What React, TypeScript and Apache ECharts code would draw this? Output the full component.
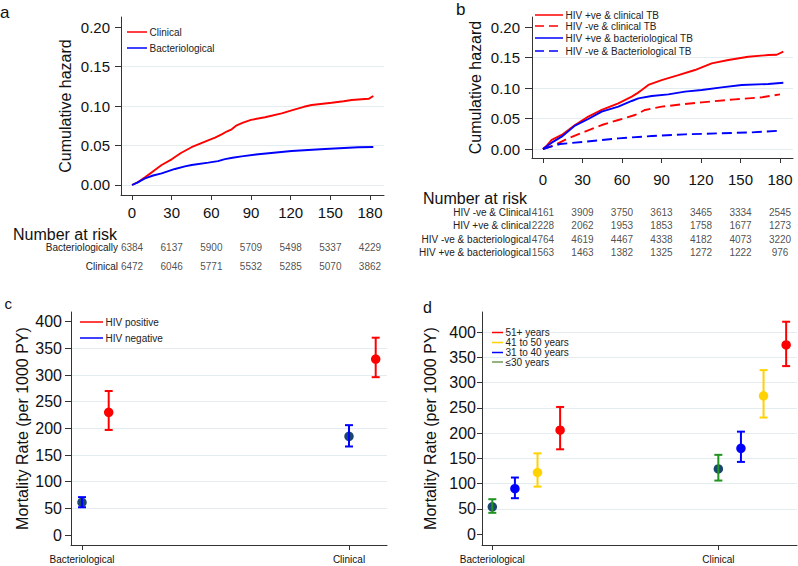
import React, { useEffect, useRef } from "react";
import * as echarts from "echarts";

// ---------- shared ticks / categories ----------
const days = [0, 30, 60, 90, 120, 150, 180];
const hazardTicks = [0, 0.05, 0.1, 0.15, 0.2];
const rateTicks = [0, 50, 100, 150, 200, 250, 300, 350, 400];
const tbTypes = ["Bacteriological", "Clinical"];

// ---------- panel a: cumulative hazard ----------
const aClinical: [number, number][] = [
  [0, 0], [5, 0.004], [9.8, 0.0097], [15, 0.016], [22.4, 0.0253], [30, 0.0325], [37, 0.0405],
  [45, 0.0478], [52, 0.0528], [58, 0.0568], [62.8, 0.0599], [67.8, 0.0641], [72, 0.068],
  [75.4, 0.0705], [79.2, 0.0755], [84, 0.079], [90, 0.0825], [100.6, 0.0857], [113.2, 0.0907],
  [123.3, 0.0958], [130, 0.099], [135.9, 0.1013], [151, 0.1042], [160, 0.106], [166.2, 0.1076],
  [176.2, 0.1089], [179, 0.109], [182.5, 0.1127],
];
const aBacterio: [number, number][] = [
  [0, 0], [4, 0.003], [9.8, 0.0084], [16, 0.012], [22.4, 0.0148], [32.5, 0.0203], [40, 0.0235],
  [45.1, 0.0253], [57.7, 0.0283], [65, 0.0302], [70.3, 0.0328], [76, 0.0345], [82.9, 0.0362],
  [95.5, 0.039], [120.7, 0.043], [145.9, 0.0456], [171.1, 0.0477], [182.5, 0.0481],
];
const aLegend = ["Clinical", "Bacteriological"];
const riskRowsA = ["Bacteriologically", "Clinical"];
const riskA = [
  [6384, 6137, 5900, 5709, 5498, 5337, 4229],
  [6472, 6046, 5771, 5532, 5285, 5070, 3862],
];

// ---------- panel b ----------
const bHivPosClin: [number, number][] = [
  [0, 0], [3, 0.006], [6.6, 0.0148], [14.2, 0.023], [24.3, 0.0393], [34.4, 0.053], [44.6, 0.064],
  [57.2, 0.0749], [67.4, 0.0858], [72, 0.092], [75, 0.0967], [80, 0.105], [90.1, 0.113],
  [102.8, 0.121], [115.4, 0.1295], [128.1, 0.1404], [140.8, 0.1459], [155.9, 0.1513],
  [171.1, 0.154], [177.5, 0.1545], [182.5, 0.1595],
];
const bHivNegClin: [number, number][] = [
  [0, 0], [9.1, 0.0066], [19.2, 0.0175], [31.9, 0.0284], [44.6, 0.0393], [57.2, 0.0475],
  [69.9, 0.0557], [77.5, 0.064], [90.1, 0.0694], [107.8, 0.0738], [120.5, 0.0765],
  [145.8, 0.0814], [166.1, 0.0847], [180, 0.0896],
];
const bHivPosBact: [number, number][] = [
  [0, 0], [6.6, 0.0104], [14.2, 0.0202], [24.3, 0.0383], [34.4, 0.0492], [44.6, 0.0612],
  [57.2, 0.0694], [67.4, 0.0787], [72.4, 0.083], [82.6, 0.0869], [95.2, 0.0896], [107.8, 0.094],
  [120.5, 0.0967], [135.7, 0.101], [150.9, 0.105], [171.1, 0.1066], [182.5, 0.1087],
];
const bHivNegBact: [number, number][] = [
  [0, 0], [12.9, 0.0082], [31.9, 0.012], [57.2, 0.0175], [82.6, 0.0213], [107.8, 0.024],
  [133.2, 0.0257], [158.5, 0.0273], [180, 0.03],
];
const bLegend = [
  "HIV +ve & clinical TB",
  "HIV -ve & clinical TB",
  "HIV +ve & bacteriological TB",
  "HIV -ve & Bacteriological TB",
];
const riskRowsB = [
  "HIV -ve & Clinical",
  "HIV +ve & clinical",
  "HIV -ve & bacteriological",
  "HIV +ve & bacteriological",
];
const riskB = [
  [4161, 3909, 3750, 3613, 3465, 3334, 2545],
  [2228, 2062, 1953, 1853, 1758, 1677, 1273],
  [4764, 4619, 4467, 4338, 4182, 4073, 3220],
  [1563, 1463, 1382, 1325, 1272, 1222, 976],
];

// ---------- panel c: [rate, lower, upper] per TB type ----------
const cLegend = ["HIV positive", "HIV negative"];
const cHivPos = [[230, 197, 270], [330, 296, 370]];
const cHivNeg = [[61, 52, 71], [185, 166, 206]];

// ---------- panel d ----------
const dLegend = ["51+ years", "41 to 50 years", "31 to 40 years", "≤30 years"];
const dAge51 = [[206, 168, 252], [375, 333, 421]];
const dAge41 = [[122, 94, 160], [274, 231, 325]];
const dAge31 = [[90, 71, 112], [170, 143, 203]];
const dAge30 = [[54, 42, 69], [129, 106, 157]];

// ---------- styles ----------
const FONT = 'Arial, "Liberation Sans", Helvetica, sans-serif';
const AX = "#333333";
const GRIDC = "#e3edf0";
const TXT = "#111111";
const RED = "#ff0000";
const BLUE = "#0000ff";
const NAVY = "#1a476f";
const GOLD = "#ffd200";
const GREEN = "#1f941f";
const GREEN_LEG = "#6f9a55";

function yValueAxis(o: any) {
  return {
    type: "value",
    gridIndex: o.grid,
    min: o.min,
    max: o.max,
    axisLine: { show: true, onZero: false, lineStyle: { color: AX, width: 1 } },
    axisTick: { show: true, length: o.tickLen, customValues: o.ticks, lineStyle: { color: AX, width: 1 } },
    axisLabel: {
      show: true, customValues: o.ticks, formatter: o.fmt, fontSize: o.fs, margin: o.margin,
      color: TXT, fontFamily: FONT,
    },
    splitLine: {
      show: true, showMinLine: o.minLine, showMaxLine: o.maxLine,
      lineStyle: { color: GRIDC, width: 1.2 },
    },
    name: o.name,
    nameLocation: "middle",
    nameRotate: 90,
    nameGap: o.nameGap,
    nameTextStyle: { fontSize: o.nameFs, color: TXT, fontFamily: FONT },
  };
}

function xValueAxis(o: any) {
  return {
    type: "value",
    gridIndex: o.grid,
    min: o.min,
    max: o.max,
    axisLine: { show: true, onZero: false, lineStyle: { color: AX, width: 1 } },
    axisTick: { show: true, length: o.tickLen, customValues: o.ticks, lineStyle: { color: AX, width: 1 } },
    axisLabel: {
      show: true, customValues: o.ticks, formatter: o.fmt, fontSize: o.fs, margin: o.margin,
      color: TXT, fontFamily: FONT,
    },
    splitLine: { show: false },
  };
}

function lineSeries(name: string, data: [number, number][], color: string, dashed: boolean, axis: number) {
  return {
    type: "line", name, data, xAxisIndex: axis, yAxisIndex: axis,
    showSymbol: false, symbol: "none", silent: true,
    lineStyle: { color, width: 1.9, type: dashed ? [10, 5] : "solid" },
    z: 3,
  };
}

function dotSeries(name: string, data: number[][], offset: number, color: string, axis: number) {
  return {
    type: "scatter", name, xAxisIndex: axis, yAxisIndex: axis, silent: true,
    data: data.map((d, i) => [i + 1 + offset, d[0]]),
    symbol: "circle", symbolSize: 9.5,
    itemStyle: { color, opacity: 1 },
    z: 3,
  };
}

function barSeries(name: string, data: number[][], offset: number, color: string, axis: number) {
  return {
    type: "custom", name, xAxisIndex: axis, yAxisIndex: axis, silent: true,
    data: data.map((d, i) => [i + 1 + offset, d[1], d[2]]),
    encode: { x: 0, y: [1, 2] },
    renderItem: (_p: any, api: any) => {
      const x = api.value(0);
      const lo = api.coord([x, api.value(1)]);
      const hi = api.coord([x, api.value(2)]);
      const hw = 4;
      const style = { stroke: color, lineWidth: 2, fill: "none" };
      return {
        type: "group",
        children: [
          { type: "line", shape: { x1: lo[0], y1: lo[1], x2: hi[0], y2: hi[1] }, style },
          { type: "line", shape: { x1: hi[0] - hw, y1: hi[1], x2: hi[0] + hw, y2: hi[1] }, style },
          { type: "line", shape: { x1: lo[0] - hw, y1: lo[1], x2: lo[0] + hw, y2: lo[1] }, style },
        ],
      };
    },
    z: 4,
  };
}

function riskSeries(rows: string[], counts: number[][], axis: number) {
  const data: any[] = [];
  rows.forEach((r, ri) => counts[ri].forEach((n, k) => data.push([days[k], r, n])));
  return {
    type: "scatter", xAxisIndex: axis, yAxisIndex: axis, silent: true,
    data, symbolSize: 1, itemStyle: { color: "rgba(0,0,0,0)" },
    label: {
      show: true, position: "inside", formatter: (p: any) => String(p.value[2]),
      fontSize: 10, color: "#222", fontFamily: FONT,
    },
  };
}

function legendItem(x1: number, x2: number, y: number, color: string, text: string, dashed = false, fs = 10) {
  return [
    {
      type: "line", silent: true, z: 50,
      shape: { x1, y1: y, x2, y2: y },
      style: { stroke: color, lineWidth: 1.5, lineDash: dashed ? [9, 5] : null },
    },
    {
      type: "text", silent: true, z: 50, x: x2 + 2.5, y,
      style: { text, fontSize: fs, fontFamily: FONT, fill: "#222", verticalAlign: "middle", align: "left" },
    },
  ];
}

function plainText(x: number, y: number, text: string, fs: number) {
  return {
    type: "text", silent: true, z: 50, x, y,
    style: { text, fontSize: fs, fontFamily: FONT, fill: TXT, verticalAlign: "middle", align: "left" },
  };
}

export default function App() {
  const ref = useRef<HTMLDivElement>(null);

  useEffect(() => {
    if (!ref.current) return;
    const chart = echarts.init(ref.current, undefined, { renderer: "svg" });
    const hz = (v: number) => v.toFixed(2);
    const cat = (v: number) => tbTypes[Math.round(v) - 1] ?? "";

    const option: any = {
      animation: false,
      backgroundColor: "#ffffff",
      textStyle: { fontFamily: FONT },
      grid: [
        { left: 121, top: 17, width: 263, height: 178, containLabel: false, outerBoundsMode: "none" },
        { left: 532, top: 17, width: 261, height: 141, containLabel: false, outerBoundsMode: "none" },
        { left: 71, top: 312, width: 316, height: 233, containLabel: false, outerBoundsMode: "none" },
        { left: 482, top: 312, width: 315, height: 233, containLabel: false, outerBoundsMode: "none" },
        { left: 121, top: 238.1, width: 263, height: 37.6, containLabel: false, outerBoundsMode: "none" },
        { left: 532, top: 205.5, width: 261, height: 53.7, containLabel: false, outerBoundsMode: "none" },
      ],
      xAxis: [
        xValueAxis({ grid: 0, min: -8.32, max: 190.59, ticks: days, fmt: (v: number) => String(v), fs: 15, margin: 10, tickLen: 5 }),
        xValueAxis({ grid: 1, min: -8.35, max: 189.87, ticks: days, fmt: (v: number) => String(v), fs: 15, margin: 14, tickLen: 5 }),
        xValueAxis({ grid: 2, min: 0.9588, max: 2.1423, ticks: [1, 2], fmt: cat, fs: 10, margin: 9, tickLen: 5 }),
        xValueAxis({ grid: 3, min: 0.9544, max: 2.348, ticks: [1, 2], fmt: cat, fs: 10, margin: 9, tickLen: 5 }),
        { type: "value", gridIndex: 4, min: -8.32, max: 190.59, show: false },
        { type: "value", gridIndex: 5, min: -8.35, max: 189.87, show: false },
      ],
      yAxis: [
        yValueAxis({
          grid: 0, min: -0.01266, max: 0.21266, ticks: hazardTicks, fmt: hz, fs: 15, margin: 11, tickLen: 6,
          minLine: true, maxLine: false, name: "Cumulative hazard", nameGap: 48, nameFs: 16,
        }),
        yValueAxis({
          grid: 1, min: -0.01475, max: 0.2164, ticks: hazardTicks, fmt: hz, fs: 15, margin: 12, tickLen: 7,
          minLine: true, maxLine: false, name: "Cumulative hazard", nameGap: 49, nameFs: 16,
        }),
        yValueAxis({
          grid: 2, min: -18.75, max: 418.2, ticks: rateTicks, fmt: (v: number) => String(v), fs: 16, margin: 9, tickLen: 6,
          minLine: false, maxLine: false, name: "Mortality Rate (per 1000 PY)", nameGap: 41, nameFs: 16,
        }),
        yValueAxis({
          grid: 3, min: -21.8, max: 440.3, ticks: rateTicks, fmt: (v: number) => String(v), fs: 16, margin: 6, tickLen: 5,
          minLine: false, maxLine: true, name: "Mortality Rate (per 1000 PY)", nameGap: 44, nameFs: 16,
        }),
        {
          type: "category", gridIndex: 4, data: riskRowsA, inverse: true,
          axisLine: { show: false }, axisTick: { show: false }, splitLine: { show: false },
          axisLabel: { margin: 3, fontSize: 10, color: "#222", fontFamily: FONT },
        },
        {
          type: "category", gridIndex: 5, data: riskRowsB, inverse: true,
          axisLine: { show: false }, axisTick: { show: false }, splitLine: { show: false },
          axisLabel: { margin: 1, fontSize: 10, color: "#222", fontFamily: FONT },
        },
      ],
      series: [
        lineSeries(aLegend[0], aClinical, RED, false, 0),
        lineSeries(aLegend[1], aBacterio, BLUE, false, 0),
        lineSeries(bLegend[0], bHivPosClin, RED, false, 1),
        lineSeries(bLegend[1], bHivNegClin, RED, true, 1),
        lineSeries(bLegend[2], bHivPosBact, BLUE, false, 1),
        lineSeries(bLegend[3], bHivNegBact, BLUE, true, 1),
        dotSeries(cLegend[1], cHivNeg, 0, NAVY, 2),
        barSeries(cLegend[1] + " CI", cHivNeg, 0, BLUE, 2),
        dotSeries(cLegend[0], cHivPos, 0.1, RED, 2),
        barSeries(cLegend[0] + " CI", cHivPos, 0.1, RED, 2),
        dotSeries(dLegend[3], dAge30, 0, NAVY, 3),
        barSeries(dLegend[3] + " CI", dAge30, 0, GREEN, 3),
        dotSeries(dLegend[2], dAge31, 0.1, BLUE, 3),
        barSeries(dLegend[2] + " CI", dAge31, 0.1, BLUE, 3),
        dotSeries(dLegend[1], dAge41, 0.2, GOLD, 3),
        barSeries(dLegend[1] + " CI", dAge41, 0.2, GOLD, 3),
        dotSeries(dLegend[0], dAge51, 0.3, RED, 3),
        barSeries(dLegend[0] + " CI", dAge51, 0.3, RED, 3),
        riskSeries(riskRowsA, riskA, 4),
        riskSeries(riskRowsB, riskB, 5),
      ],
      graphic: [
        // panel letters
        plainText(0, 12.3, "a", 17),
        plainText(456, 9.5, "b", 17),
        plainText(4.5, 303.8, "c", 15),
        plainText(423, 307.7, "d", 16),
        // number at risk titles
        plainText(13, 234.5, "Number at risk", 16),
        plainText(423, 198.4, "Number at risk", 16),
        // legends
        ...legendItem(127, 147, 32, RED, aLegend[0]),
        ...legendItem(127, 147, 48, BLUE, aLegend[1]),
        ...legendItem(535, 563, 15, RED, bLegend[0]),
        ...legendItem(535, 563, 26, RED, bLegend[1], true),
        ...legendItem(535, 563, 38, BLUE, bLegend[2]),
        ...legendItem(535, 563, 51, BLUE, bLegend[3], true),
        ...legendItem(80, 103, 322, RED, cLegend[0]),
        ...legendItem(80, 103, 338, BLUE, cLegend[1]),
        ...legendItem(492, 503, 332.5, RED, dLegend[0]),
        ...legendItem(492, 503, 342.5, GOLD, dLegend[1]),
        ...legendItem(492, 503, 352.5, BLUE, dLegend[2]),
        ...legendItem(492, 503, 362, GREEN_LEG, dLegend[3]),
      ],
    };

    chart.setOption(option);
    return () => chart.dispose();
  }, []);

  return (
    <div
      ref={ref}
      style={{ position: "absolute", left: 0, top: 0, width: 798, height: 566, background: "#fff" }}
    />
  );
}
